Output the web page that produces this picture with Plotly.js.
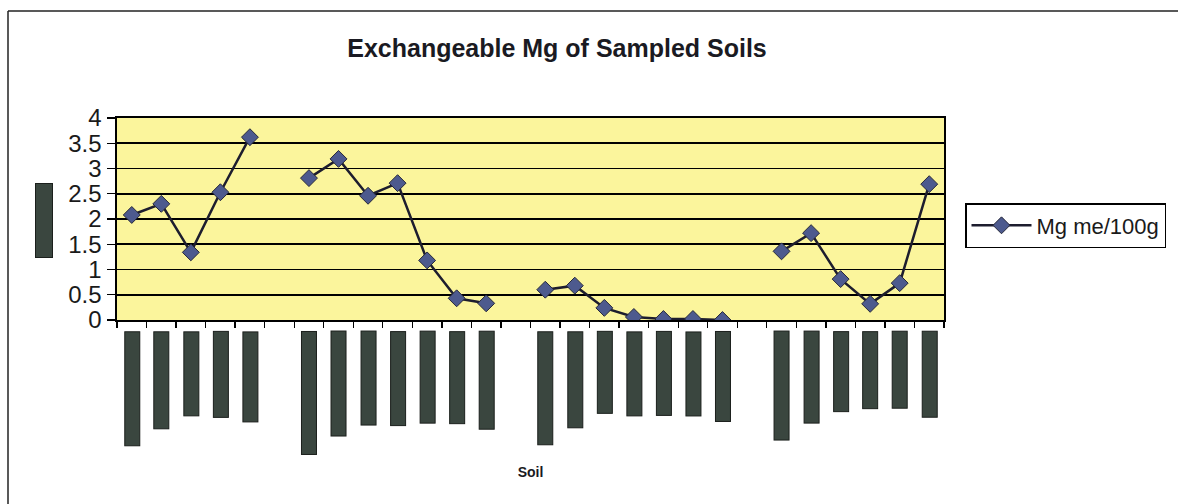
<!DOCTYPE html>
<html><head><meta charset="utf-8">
<script src="https://cdn.plot.ly/plotly-3.0.1.min.js"></script>
<style>html,body{margin:0;padding:0;background:#fff}</style>
</head><body><div id="chart" style="width:1178px;height:504px"></div>
<script>
// Category labels (original labels are redacted in the source; gaps separate the four soil groups)
const sampleLabels = ['S1','S2','S3','S4','S5','',
  'S6','S7','S8','S9','S10','S11','S12','',
  'S13','S14','S15','S16','S17','S18','S19','',
  'S20','S21','S22','S23','S24','S25'];
// Exchangeable Mg (me/100g)
const mgValues = [2.08,2.30,1.34,2.53,3.62,null,
  2.81,3.19,2.46,2.71,1.18,0.43,0.33,null,
  0.60,0.68,0.24,0.06,0.02,0.02,0.00,null,
  1.36,1.72,0.81,0.32,0.73,2.69];
const seriesName = 'Mg me/100g';
const chartTitle = 'Exchangeable Mg of Sampled Soils';
const xTitle = 'Soil';
const yTicks = [0,0.5,1,1.5,2,2.5,3,3.5,4];
const yTickText = ['0','0.5','1','1.5','2','2.5','3','3.5','4'];

// styling of the redaction boxes that hide the category labels (px length)
const labelBoxLen = [115,98,85,87,91,0,124,106,95,95,93,93,99,0,114,97,83,85,85,85,91,0,110,93,81,78,78,87];

const W=1178,H=504, mL=117, mR=234, mT=118, mB=184;
const pw=W-mL-mR, ph=H-mT-mB;
const px=x=>(x-mL)/pw, py=y=>(H-mB-y)/ph;

const xIdx = sampleLabels.map((_,i)=>i);
const boxColor='#3a463f';

const annotations = [];
sampleLabels.forEach((lab,i)=>{
  if(!lab) return;
  annotations.push({x:i, xref:'x', y:0, yref:'paper', yanchor:'top', xanchor:'center', yshift:-11,
    text:lab, showarrow:false, textangle:-90, width:labelBoxLen[i]-2, height:14,
    bgcolor:boxColor, bordercolor:'#1b1f1c', borderwidth:1, borderpad:0,
    font:{family:'Liberation Sans, Arial', size:9, color:boxColor}});
});
// redacted y-axis title box
annotations.push({x:px(43.5), y:py(220.5), xref:'paper', yref:'paper', xanchor:'center', yanchor:'middle',
  text:'Mg', showarrow:false, textangle:-90, width:73, height:16,
  bgcolor:boxColor, bordercolor:'#1b1f1c', borderwidth:1, borderpad:0,
  font:{family:'Liberation Sans, Arial', size:9, color:boxColor}});

const trace = {x:xIdx, y:mgValues, type:'scatter', mode:'lines+markers', name:seriesName,
  connectgaps:false,
  line:{color:'#1d1d2e', width:2.5},
  marker:{symbol:'diamond', size:13, color:'#4d5a8e', line:{color:'#26283a', width:1}}};

const layout = {
  width:W, height:H, margin:{l:mL,r:mR,t:mT,b:mB,pad:0,autoexpand:false},
  paper_bgcolor:'#ffffff', plot_bgcolor:'#fbf59c',
  font:{family:'Liberation Sans, Arial, sans-serif', color:'#000'},
  title:{text:'<b>'+chartTitle+'</b>', xref:'container', x:557/W, xanchor:'center',
    yref:'container', y:1-48/H, yanchor:'middle', font:{size:25, color:'#1a1a22'}},
  xaxis:{range:[-0.5, sampleLabels.length-0.5], tickmode:'linear', tick0:-0.5, dtick:1,
    ticks:'outside', ticklen:6, tickwidth:1.3, tickcolor:'#000', showticklabels:false,
    showgrid:false, zeroline:false, showline:true, mirror:true, linecolor:'#000', linewidth:1.6,
    title:{text:'<b>'+xTitle+'</b>', standoff:140, font:{size:14, color:'#1a1a22'}}, fixedrange:true},
  yaxis:{range:[0,4], tickmode:'array', tickvals:yTicks, ticktext:yTickText,
    ticks:'outside', ticklen:8, tickwidth:1.3, tickcolor:'#000',
    tickfont:{size:24, color:'#1a1a1a'}, ticklabelstandoff:1,
    showgrid:true, gridcolor:'#000', gridwidth:1.7, zeroline:false,
    showline:true, mirror:true, linecolor:'#000', linewidth:1.6, fixedrange:true},
  showlegend:true,
  legend:{xref:'container', yref:'container', x:965/W, y:1-203/H, xanchor:'left', yanchor:'top', bgcolor:'#fff',
    bordercolor:'#000', borderwidth:1.5, font:{size:22, color:'#1a1a1a'}, itemwidth:60,
    tracegroupgap:0},
  annotations:annotations,
  shapes:[
    {type:'line', xref:'paper', yref:'paper', x0:px(8), x1:px(1178), y0:py(11), y1:py(11), line:{color:'#222', width:1.5}},
    {type:'line', xref:'paper', yref:'paper', x0:px(8), x1:px(8), y0:py(11), y1:py(504), line:{color:'#222', width:1.5}}
  ]
};
Plotly.newPlot('chart',[trace],layout,{displayModeBar:false, staticPlot:true});
</script></body></html>
